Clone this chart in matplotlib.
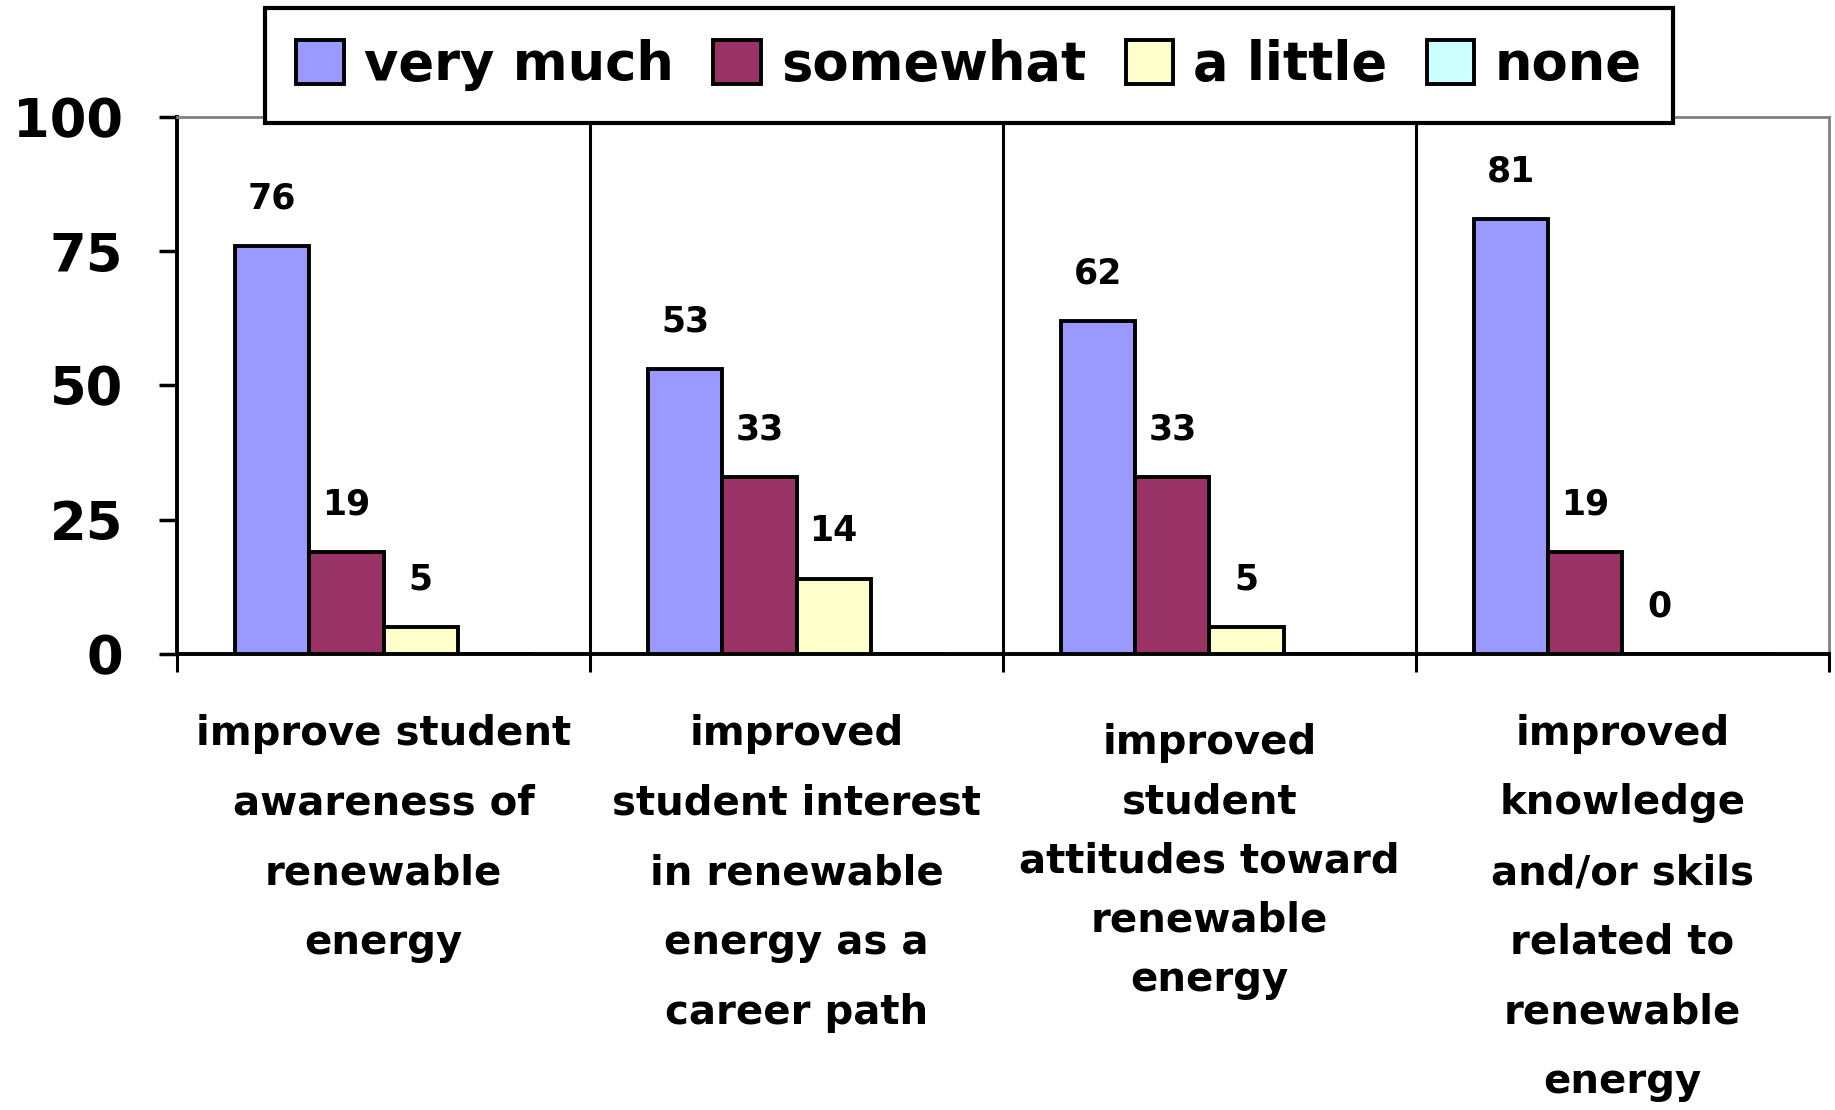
import matplotlib
matplotlib.use("Agg")
import matplotlib.pyplot as plt
import numpy as np

# ───── Data ─────
categories = [
    "improve student\nawareness of\nrenewable\nenergy",
    "improved\nstudent interest\nin renewable\nenergy as a\ncareer path",
    "improved\nstudent\nattitudes toward\nrenewable\nenergy",
    "improved\nknowledge\nand/or skils\nrelated to\nrenewable\nenergy",
]
series_names = ["very much", "somewhat", "a little", "none"]
very_much = [76, 53, 62, 81]
somewhat = [19, 33, 33, 19]
a_little = [5, 14, 5, 0]
none = [0, 0, 0, 0]
yticks = [0, 25, 50, 75, 100]

colors = ["#9999FF", "#993366", "#FFFFCC", "#CCFFFF"]
values = [very_much, somewhat, a_little, none]

plt.rcParams["font.family"] = "DejaVu Sans"
plt.rcParams["font.weight"] = "bold"

fig = plt.figure(figsize=(18.35, 11.10), dpi=100)
ax = fig.add_axes([0.0965, 0.411, 0.9002, 0.4838])

x = np.arange(len(categories))
w = 0.18
handles = []
for j, (name, vals, c) in enumerate(zip(series_names, values, colors)):
    pos = x + (j - 1.5) * w
    bars = ax.bar(pos, vals, width=w, color=c, edgecolor="black",
                  linewidth=2.8, label=name, zorder=3)
    handles.append(bars)
    # data labels for the first three series only
    if j < 3:
        for xp, v in zip(pos, vals):
            ax.annotate(str(v), xy=(xp, v), xytext=(0, 34),
                        textcoords="offset points", ha="center", va="center",
                        fontsize=25, fontweight="bold")

ax.set_xlim(-0.5, 3.5)
ax.set_ylim(0, 100)

# group dividers
for b in [0.5, 1.5, 2.5]:
    ax.axvline(b, color="black", lw=2.2, zorder=2)

ax.set_yticks(yticks)
ax.set_yticklabels([str(t) for t in yticks], fontsize=38, fontweight="bold")
ax.tick_params(axis="y", direction="out", length=13, width=2.5, pad=26)
ax.set_xticks(np.arange(-0.5, 4.0, 1.0))
ax.set_xticklabels([])
ax.tick_params(axis="x", direction="out", length=13, width=2.2)

for s in ["left", "bottom"]:
    ax.spines[s].set_color("black")
    ax.spines[s].set_linewidth(2.8)
for s in ["top", "right"]:
    ax.spines[s].set_color("#808080")
    ax.spines[s].set_linewidth(2.0)

# category labels under the axis
pads = [43, 43, 50, 43]
spacing = [1.96, 1.96, 1.62, 1.96]
for i, lab in enumerate(categories):
    ax.annotate(lab, xy=(i, 0), xycoords=("data", "axes fraction"),
                xytext=(0, -pads[i]), textcoords="offset points",
                ha="center", va="top", fontsize=29, fontweight="bold",
                linespacing=spacing[i], annotation_clip=False)

leg = fig.legend(handles=handles, labels=series_names, loc="center",
                 bbox_to_anchor=(0.528, 0.941), ncol=4, fontsize=38,
                 frameon=True, fancybox=False, framealpha=1,
                 handlelength=0.9, handleheight=0.9, handletextpad=0.38,
                 columnspacing=0.75, borderpad=0.6)
leg.get_frame().set_edgecolor("black")
leg.get_frame().set_linewidth(3)
for t in leg.get_texts():
    t.set_fontweight("bold")

fig.savefig("out.png", dpi=100)
